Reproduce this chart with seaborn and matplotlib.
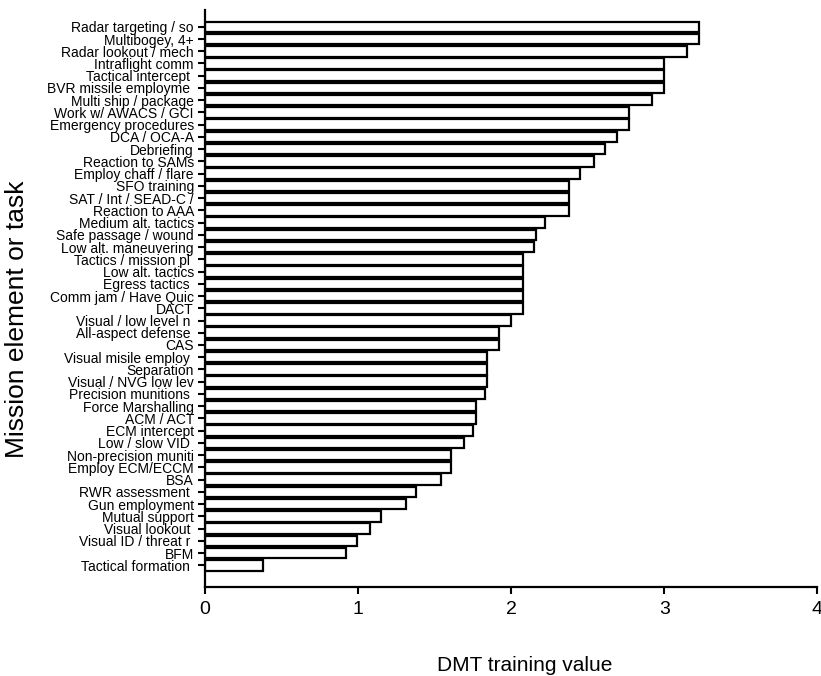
import matplotlib
matplotlib.use("Agg")
import matplotlib.pyplot as plt
import pandas as pd
import seaborn as sns

tasks = [
    "Radar targeting / so", "Multibogey, 4+", "Radar lookout / mech",
    "Intraflight comm", "Tactical intercept ", "BVR missile employme ",
    "Multi ship / package", "Work w/ AWACS / GCI", "Emergency procedures",
    "DCA / OCA-A", "Debriefing", "Reaction to SAMs", "Employ chaff / flare",
    "SFO training", "SAT / Int / SEAD-C /", "Reaction to AAA",
    "Medium alt. tactics", "Safe passage / wound", "Low alt. maneuvering",
    "Tactics / mission pl ", "Low alt. tactics", "Egress tactics ",
    "Comm jam / Have Quic", "DACT", "Visual / low level n ",
    "All-aspect defense ", "CAS", "Visual misile employ ", "Separation",
    "Visual / NVG low lev", "Precision munitions ", "Force Marshalling",
    "ACM / ACT", "ECM intercept", "Low / slow VID ", "Non-precision muniti",
    "Employ ECM/ECCM", "BSA", "RWR assessment ", "Gun employment",
    "Mutual support", "Visual lookout ", "Visual ID / threat r ", "BFM",
    "Tactical formation ",
]
dmt_value = [
    3.23, 3.23, 3.15, 3.00, 3.00, 3.00, 2.92, 2.77, 2.77, 2.69,
    2.61, 2.54, 2.45, 2.38, 2.38, 2.38, 2.22, 2.16, 2.15, 2.08,
    2.08, 2.08, 2.08, 2.08, 2.00, 1.92, 1.92, 1.84, 1.84, 1.84,
    1.83, 1.77, 1.77, 1.75, 1.69, 1.61, 1.61, 1.54, 1.38, 1.31,
    1.15, 1.08, 0.99, 0.92, 0.38,
]
x_ticks = [0, 1, 2, 3, 4]

df = pd.DataFrame({"task": tasks, "value": dmt_value})

sns.set_style("ticks")
plt.rcParams["font.family"] = ["Liberation Sans", "DejaVu Sans"]
plt.rcParams.update({
    "text.color": "black",
    "axes.labelcolor": "black",
    "xtick.color": "black",
    "ytick.color": "black",
})

fig = plt.figure(figsize=(8.21, 6.76), dpi=100)
ax = fig.add_axes([0.2497, 0.1317, 0.7458, 0.8535])

sns.barplot(
    data=df, x="value", y="task", orient="h", ax=ax,
    color="white", edgecolor="black", linewidth=1.6, width=0.86,
    errorbar=None,
)

ax.set_xlim(0, 4)
ax.set_ylim(45.77, -1.37)
ax.set_xticks(x_ticks)
ax.set_xticklabels([str(t) for t in x_ticks], fontsize=14)
ax.tick_params(axis="x", length=5, width=1.5, pad=5)
ax.tick_params(axis="y", length=5, width=1.5, pad=3, labelsize=10)

for side in ["top", "right"]:
    ax.spines[side].set_visible(False)
for side in ["left", "bottom"]:
    ax.spines[side].set_linewidth(1.6)
    ax.spines[side].set_color("black")

ax.set_xlabel("DMT training value", fontsize=15)
ax.set_ylabel("Mission element or task", fontsize=19)
ax.xaxis.set_label_coords(0.522, -0.12)
ax.yaxis.set_label_coords(-0.287, 0.464)

fig.savefig("out.png", dpi=100)
